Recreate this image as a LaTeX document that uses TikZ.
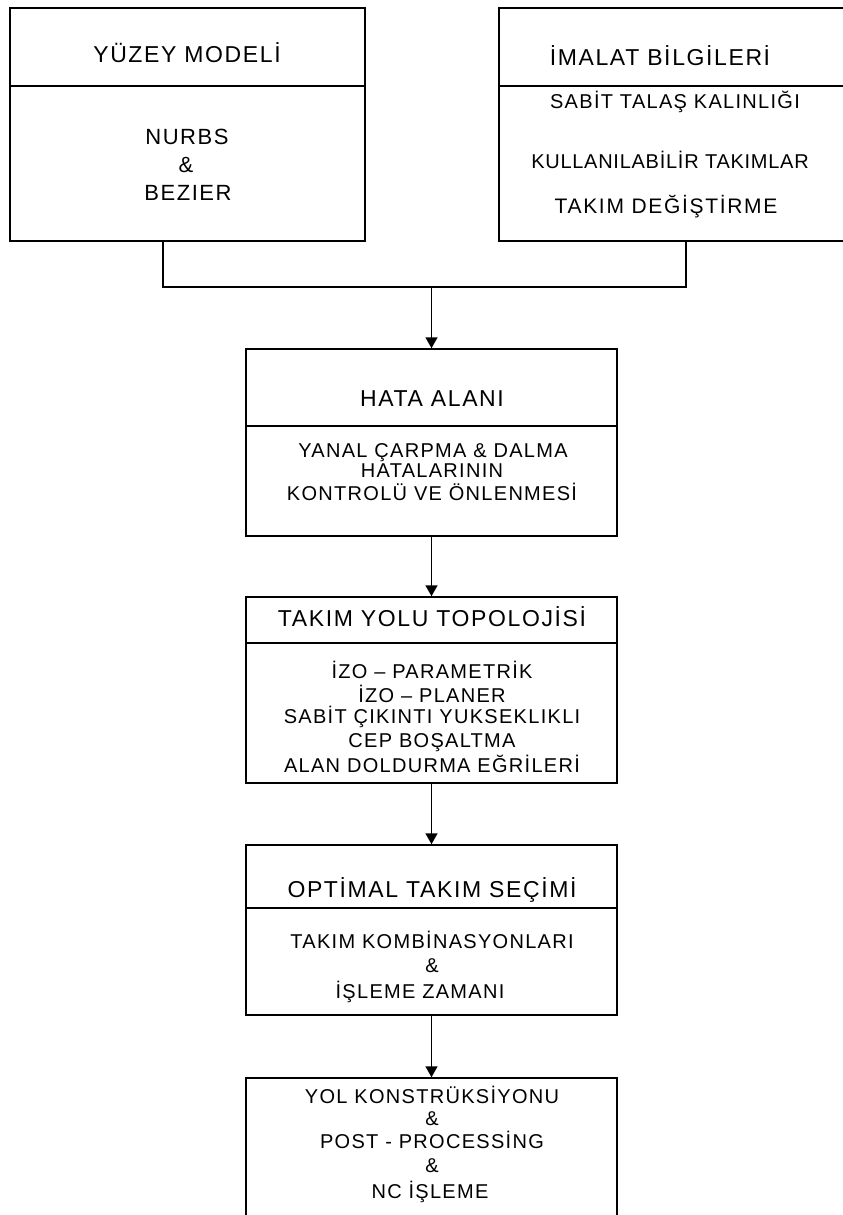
\documentclass[tikz,border=0pt]{standalone}
\usepackage{fontspec}
\setmainfont{Liberation Sans}
\newfontfamily\tfont[LetterSpace=6.5]{Liberation Sans}
\newfontfamily\hfont[LetterSpace=7]{Liberation Sans}
\newfontfamily\mfont[LetterSpace=8]{Liberation Sans}
\newfontfamily\nfont[LetterSpace=3.7]{Liberation Sans}
\usetikzlibrary{arrows.meta}
\tikzset{
  box/.style={draw, line width=1.5pt, rectangle, inner sep=0pt},
  txt/.style={font=\tfont\fontsize{20}{24}\selectfont, inner sep=0pt, anchor=base},
  ttl/.style={txt, font=\hfont\fontsize{23}{26}\selectfont},
  big/.style={txt, font=\hfont\fontsize{22}{26}\selectfont},
  wide/.style={txt, font=\mfont\fontsize{21}{24}\selectfont},
  narrow/.style={txt, font=\nfont\fontsize{20}{24}\selectfont},
  link/.style={line width=1.5pt},
  arr/.style={line width=1.5pt, -{Triangle[width=12pt,length=11pt]}}
}
\begin{document}
\begin{tikzpicture}[x=1pt,y=-1pt]
\clip (0,0) rectangle (843,1215);
\fill[white] (0,0) rectangle (843,1215);
% boxes
\node[box, minimum width=355, minimum height=233] (b1) at (187.5,124.5) {};
\node[box, minimum width=361, minimum height=233] (b2) at (679.5,124.5) {};
\node[box, minimum width=371, minimum height=187] (hata) at (431.5,442.5) {};
\node[box, minimum width=371, minimum height=186] (tyt) at (431.5,690) {};
\node[box, minimum width=371, minimum height=170] (opt) at (431.5,930) {};
\node[box, minimum width=371, minimum height=152] (yol) at (431.5,1154) {};
% dividers
\draw[link] (b1.west |- 0,86) -- (b1.east |- 0,86);
\draw[link] (b2.west |- 0,86) -- (b2.east |- 0,86);
\draw[link] (hata.west |- 0,426) -- (hata.east |- 0,426);
\draw[link] (tyt.west |- 0,643) -- (tyt.east |- 0,643);
\draw[link] (opt.west |- 0,908) -- (opt.east |- 0,908);
% texts box 1
\node[ttl] (t1) at (187,63) {YÜZEY MODELİ};
\node[big] (t1a) at (187,144) {NURBS};
\node[big] (t1b) at (186,172.5) {\&};
\node[big] (t1c) at (188,200.5) {BEZIER};
% texts box 2
\node[ttl] (t2) at (660,65.5) {İMALAT BİLGİLERİ};
\node[txt] (t2a) at (675,108.5) {SABİT TALAŞ KALINLIĞI};
\node[narrow] (t2b) at (670,168.5) {KULLANILABİLİR TAKIMLAR};
\node[wide] (t2c) at (666,213.5) {TAKIM DEĞİŞTİRME};
% hata
\node[ttl] (t3) at (432,406.5) {HATA ALANI};
\node[txt] (t3a) at (433,457.5) {YANAL ÇARPMA \& DALMA};
\node[txt] (t3b) at (432,477.5) {HATALARININ};
\node[txt] (t3c) at (432,500.5) {KONTROLÜ VE ÖNLENMESİ};
% takim yolu
\node[ttl] (t4) at (432,626) {TAKIM YOLU TOPOLOJİSİ};
\node[txt] (t4a) at (432,678.5) {İZO – PARAMETRİK};
\node[txt] (t4b) at (432,702.5) {İZO – PLANER};
\node[txt] (t4c) at (432,723.5) {SABİT ÇIKINTI YUKSEKLIKLI};
\node[txt] (t4d) at (432,747.5) {CEP BOŞALTMA};
\node[txt] (t4e) at (432,772.5) {ALAN DOLDURMA EĞRİLERİ};
% optimal
\node[ttl] (t5) at (432,897) {OPTİMAL TAKIM SEÇİMİ};
\node[txt] (t5a) at (432,948.5) {TAKIM KOMBİNASYONLARI};
\node[txt] (t5b) at (432,972.5) {\&};
\node[txt] (t5c) at (420,998.5) {İŞLEME ZAMANI};
% yol
\node[txt] (t6) at (432,1103.5) {YOL KONSTRÜKSİYONU};
\node[txt] (t6a) at (432,1125.5) {\&};
\node[txt] (t6b) at (432,1148.5) {POST - PROCESSİNG};
\node[txt] (t6c) at (432,1172.5) {\&};
\node[txt] (t6d) at (430,1198.5) {NC İŞLEME};
% connectors
\coordinate (j1) at (163,287);
\coordinate (j2) at (686,287);
\coordinate (jm) at (431.5,287);
\draw[link] (b1.south -| j1) -- (j1) -- (j2) -- (b2.south -| j2);
\draw[arr] (jm) -- (hata.north);
\draw[arr] (hata.south) -- (tyt.north);
\draw[arr] (tyt.south) -- (opt.north);
\draw[arr] (opt.south) -- (yol.north);
\end{tikzpicture}
\end{document}
